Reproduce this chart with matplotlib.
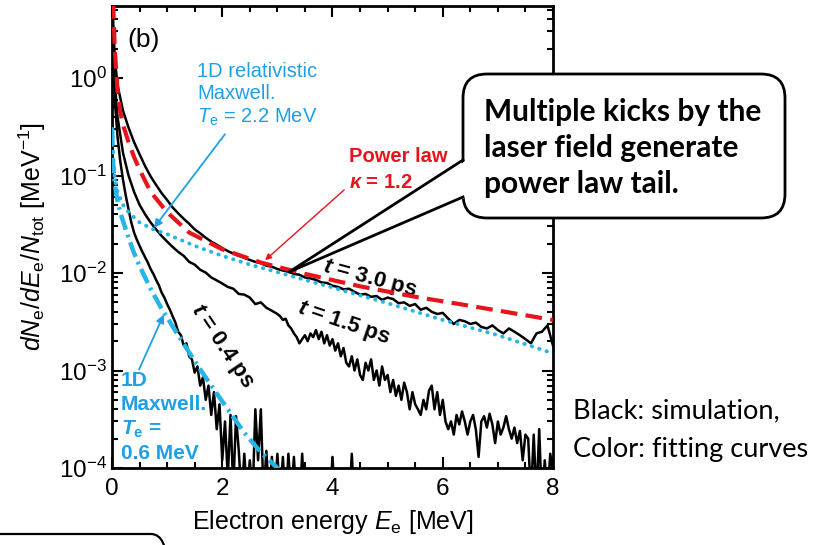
import numpy as np
import matplotlib
matplotlib.use('Agg')
import matplotlib.pyplot as plt
from matplotlib.patches import FancyBboxPatch, Polygon
from matplotlib.lines import Line2D
from matplotlib.transforms import IdentityTransform
from matplotlib.ticker import MultipleLocator, LogLocator, NullFormatter

plt.rcParams['font.family'] = ['Liberation Sans', 'DejaVu Sans']
plt.rcParams['mathtext.fontset'] = 'custom'
plt.rcParams['mathtext.rm'] = 'Liberation Sans'
plt.rcParams['mathtext.it'] = 'Liberation Sans:italic'
plt.rcParams['mathtext.bf'] = 'Liberation Sans:bold'
plt.rcParams['mathtext.bfit'] = 'Liberation Sans:bold:italic'

# --- fitting curves ---
E_pow = [0.02, 0.05, 0.1, 0.15, 0.2, 0.3, 0.4, 0.5, 0.7, 1.0, 1.4, 2.0, 2.7, 3.5, 4.5, 5.5, 6.5, 8.0]
f_pow = [6.0, 2.0, 0.75, 0.45, 0.33, 0.22, 0.155, 0.115, 0.068, 0.042, 0.026, 0.0175, 0.0128,
         0.0098, 0.0073, 0.0057, 0.0046, 0.0033]

E_rel = [0.005, 0.02, 0.05, 0.1, 0.2, 0.3, 0.5, 0.75, 1.0, 1.5, 2.0, 2.5, 3.0, 3.5, 4.0, 5.0, 6.0, 7.0, 8.0]
f_rel = [0.3, 0.15, 0.095, 0.068, 0.05, 0.042, 0.033, 0.028, 0.025, 0.019, 0.015, 0.0122, 0.0102,
         0.0085, 0.0071, 0.0049, 0.0033, 0.0023, 0.0015]

E_max = [0.003, 0.01, 0.03, 0.06, 0.1, 0.15, 0.2, 0.3, 0.4, 0.5, 0.7, 0.9, 1.2, 1.5, 1.8, 2.1, 2.4, 2.7, 3.0, 3.1]
f_max = [0.3, 0.17, 0.11, 0.075, 0.055, 0.042, 0.034, 0.023, 0.016, 0.0118, 0.0069, 0.0043, 0.0023,
         0.00125, 0.0007, 0.0004, 0.00023, 0.000145, 0.0001, 0.00009]

# --- simulation spectra ---
E_t30 = np.concatenate([[0.0, 0.02, 0.05], np.round(np.arange(0.1, 8.05, 0.1), 2)])
f_t30 = [8.0, 4.0, 1.6,
         0.85, 0.46, 0.31, 0.22, 0.165, 0.125, 0.098, 0.080, 0.066, 0.056,
         0.047, 0.041, 0.036, 0.032, 0.028, 0.0255, 0.023, 0.021, 0.0195, 0.018,
         0.0168, 0.0158, 0.0150, 0.0143, 0.0136, 0.0130, 0.0126, 0.0119, 0.0116, 0.0110,
         0.0106, 0.0103, 0.0098, 0.0096, 0.0090, 0.0088, 0.0085, 0.0080, 0.0079, 0.0074,
         0.0072, 0.0068, 0.0069, 0.0064, 0.0060, 0.0061, 0.0057, 0.0058, 0.0053, 0.0056,
         0.0054, 0.0049, 0.0050, 0.0046, 0.0048, 0.0042, 0.0044, 0.0040, 0.0038, 0.0039,
         0.0034, 0.0030, 0.0033, 0.0032, 0.0030, 0.0031, 0.0028, 0.0027, 0.0029, 0.0026,
         0.0024, 0.0027, 0.0025, 0.0023, 0.0021, 0.0019, 0.0024, 0.0025, 0.0029, 0.0018]

E_t15 = np.concatenate([[0.0, 0.02, 0.05], np.round(np.arange(0.1, 3.05, 0.1), 2),
                        np.round(np.arange(3.05, 8.025, 0.05), 2)])
f_t15 = [8.0, 2.5, 0.9,
         0.40, 0.17, 0.10, 0.068, 0.050, 0.040, 0.033, 0.028, 0.024, 0.021,
         0.0185, 0.0165, 0.0150, 0.0130, 0.0122, 0.0108, 0.0101, 0.0090, 0.0084, 0.0078,
         0.0072, 0.0069, 0.0061, 0.0060, 0.0056, 0.0048, 0.0050, 0.0044, 0.0041, 0.0038,
         0.0036, 0.0033, 0.0034, 0.0029, 0.0027, 0.0024, 0.0022, 0.0019, 0.0021, 0.0023,
         0.0020, 0.0024, 0.0022, 0.0026, 0.0021, 0.0025, 0.0019, 0.0023, 0.0018, 0.0021,
         0.0016, 0.0019, 0.0014, 0.0017, 0.0012, 0.0011, 0.0014, 0.0010, 0.0013, 0.0009,
         0.0008, 0.0012, 0.0010, 0.0013, 0.0008, 0.0010, 0.0007, 0.0011, 0.0008, 0.0009,
         0.0006, 0.0008, 0.00055, 0.0007, 0.0005, 0.00075, 0.0006, 0.0004, 0.0006, 0.00045,
         0.0004, 0.00035, 0.0005, 0.0004, 0.00062, 0.0007, 0.0004, 0.0006, 0.00035, 0.0005,
         0.0003, 0.00025, 0.0003, 0.00022, 0.00035, 0.00028, 0.00038, 0.0003, 0.00022, 0.0003,
         0.00035, 0.00025, 0.00013, 0.0003, 0.00034, 0.00026, 0.00036, 0.00028, 0.00018, 0.0003,
         0.00022, 0.00026, 0.00034, 0.00025, 0.0002, 0.00026, 0.00018, 0.00024, 0.00012, 0.00022,
         0.0002, 0.00005, 0.00022, 0.00005, 0.00025, 0.00004, 0.00012, 0.00005, 0.00014, 0.00009]

E_t04 = np.concatenate([[0.0, 0.02, 0.05], np.round(np.arange(0.1, 4.625, 0.05), 2)])
f_t04 = [8.0, 2.0, 0.6,
         0.25, 0.14, 0.09, 0.062, 0.045, 0.033, 0.026, 0.022, 0.019, 0.0165,
         0.0145, 0.0128, 0.011, 0.0098, 0.0085, 0.0075, 0.0063, 0.0056,
         0.0048, 0.0042, 0.0036, 0.0031, 0.0025, 0.0023, 0.0018, 0.0019, 0.0014, 0.0013,
         0.00095, 0.0011, 0.0007, 0.00085, 0.0005, 0.0007, 0.00035, 0.0006, 0.00025, 0.00045,
         0.00012, 0.0003, 0.00008, 0.00035, 0.00006, 0.00034, 0.00015, 0.00005, 0.00014, 0.00005,
         0.00012, 0.00005, 0.0004, 0.00012, 0.0004, 0.00005, 0.00015, 0.00005, 0.00013, 0.00005,
         0.00014, 0.00005, 0.00013, 0.00004, 0.00014, 0.00005, 0.00013, 0.00004, 0.00004, 0.00014,
         0.00004, 0.00004, 0.00004, 0.00004, 0.00004, 0.00004, 0.00004, 0.00004, 0.00004, 0.00004,
         0.00013, 0.00004, 0.00004, 0.00004, 0.00004, 0.00004, 0.00004, 0.00014, 0.00004, 0.00004,
         0.00004, 0.00004, 0.00004]

black = 'k'
red = '#e8141c'
cyan = '#27b4e6'
cyan_txt = '#1fa0e6'


def ypos(py):
    # pixel row of the reference -> data value on the log axis
    return 10 ** ((468 - py) / 97.5 - 4)


fig = plt.figure(figsize=(8.37, 5.45), dpi=100)
ax = fig.add_axes([112 / 837, 1 - 468 / 545, 441 / 837, 462 / 545])

# simulation curves
ax.plot(E_t04, f_t04, color=black, lw=1.8, zorder=3)
ax.plot(E_t15, f_t15, color=black, lw=1.8, zorder=3)
ax.plot(E_t30, f_t30, color=black, lw=1.8, zorder=3)

# fits
ax.plot(E_max, f_max, color=cyan, lw=3.2, linestyle=(0, (3.5, 1.2, 0.6, 1.2)), zorder=4)
ax.plot(E_rel, f_rel, color=cyan, lw=2.8, linestyle=(0, (0.1, 1.9)), dash_capstyle='round', zorder=4)
ax.plot(E_pow, f_pow, color=red, lw=3.0, linestyle=(0, (4, 2)), zorder=4)

ax.set_yscale('log')
ax.set_xlim(0, 8)
ax.set_ylim(1e-4, ypos(6))
ax.xaxis.set_major_locator(MultipleLocator(2))
ax.xaxis.set_minor_locator(MultipleLocator(0.5))
ax.yaxis.set_major_locator(LogLocator(base=10, numticks=10))
ax.yaxis.set_minor_locator(LogLocator(base=10, subs=np.arange(2, 10), numticks=10))
ax.yaxis.set_minor_formatter(NullFormatter())
ax.tick_params(which='both', direction='in', top=True, right=True, width=1.5, labelsize=17.5)
ax.tick_params(which='major', length=8)
ax.tick_params(which='minor', length=4)
ax.tick_params(axis='x', pad=7)
for s in ax.spines.values():
    s.set_linewidth(2)

ax.set_xlabel(r'Electron energy $E_{\mathrm{e}}$ [MeV]', fontsize=18, labelpad=6)
ax.set_ylabel(r'$dN_{\mathrm{e}}/dE_{\mathrm{e}}/N_{\mathrm{tot}}$ [MeV$^{-1}$]', fontsize=18, labelpad=8)

# labels in the plot
ax.text(0.28, ypos(40), '(b)', fontsize=19, va='center')
ax.text(1.55, ypos(62),
        '1D relativistic\nMaxwell.\n' + r'$T_{\mathrm{e}}$' + ' = 2.2 MeV',
        color=cyan_txt, fontsize=14.5, va='top', linespacing=1.22)
ax.annotate('', xy=(0.73, ypos(230)), xytext=(2.08, ypos(132)),
            arrowprops=dict(arrowstyle='-|>', color=cyan_txt, lw=1.3, mutation_scale=12))

ax.text(4.3, ypos(157), 'Power law', color=red, fontsize=14.5, fontweight='bold', va='center')
ax.text(4.3, ypos(183), r'$\mathbfit{\kappa}$ = 1.2', color=red, fontsize=14.5,
        fontweight='bold', va='center')
ax.annotate('', xy=(2.74, ypos(262)), xytext=(4.25, ypos(188)),
            arrowprops=dict(arrowstyle='-|>', color=red, lw=1.0, mutation_scale=9))

ax.text(4.68, ypos(279), r'$\mathbfit{t}$ = 3.0 ps', fontsize=16, fontweight='bold',
        rotation=-15, ha='center', va='center')
ax.text(4.2, ypos(323), r'$\mathbfit{t}$ = 1.5 ps', fontsize=16, fontweight='bold',
        rotation=-19, ha='center', va='center')
ax.text(2.0, ypos(346), r'$\mathbfit{t}$ = 0.4 ps', fontsize=16, fontweight='bold',
        rotation=-56, ha='center', va='center')

ax.text(0.16, ypos(371),
        '1D\nMaxwell.\n' + r'$\mathbfit{T}_{\mathbf{e}}$' + ' =\n0.6 MeV',
        color=cyan_txt, fontsize=15, fontweight='bold', va='top', linespacing=1.3)
ax.annotate('', xy=(0.96, ypos(312)), xytext=(0.47, ypos(372)),
            arrowprops=dict(arrowstyle='-|>', color=cyan_txt, lw=1.3, mutation_scale=12))

# callout box (pixel coordinates, origin bottom-left)
H = 545
pix = IdentityTransform()
box = FancyBboxPatch((463, H - 218), 322, 144, boxstyle='round,pad=0,rounding_size=24',
                     transform=pix, facecolor='white', edgecolor='black', lw=2, zorder=10)
fig.add_artist(box)
tail = Polygon([(467, H - 160), (289, H - 272), (467, H - 197)], closed=True, transform=pix,
               facecolor='white', edgecolor='none', zorder=11)
fig.add_artist(tail)
fig.add_artist(Line2D([463, 289, 463], [H - 160, H - 272, H - 197], transform=pix,
                      color='black', lw=2, zorder=12))
fig.text(484 / 837, 1 - 148 / 545, 'Multiple kicks by the\nlaser field generate\npower law tail.',
         fontsize=21.5, fontweight='bold', family='Lato', va='center', linespacing=1.36, zorder=13)

fig.text(573 / 837, 1 - 430 / 545, 'Black: simulation,\nColor: fitting curves', fontsize=19.5,
         family='Lato', va='center', linespacing=1.7)

# partial box at the lower-left corner
box2 = FancyBboxPatch((-40, -40), 207, 40 + (H - 534), boxstyle='round,pad=0,rounding_size=16',
                      transform=pix, facecolor='none', edgecolor='black', lw=1.6, zorder=10)
fig.add_artist(box2)

fig.savefig('out.png', dpi=100)
